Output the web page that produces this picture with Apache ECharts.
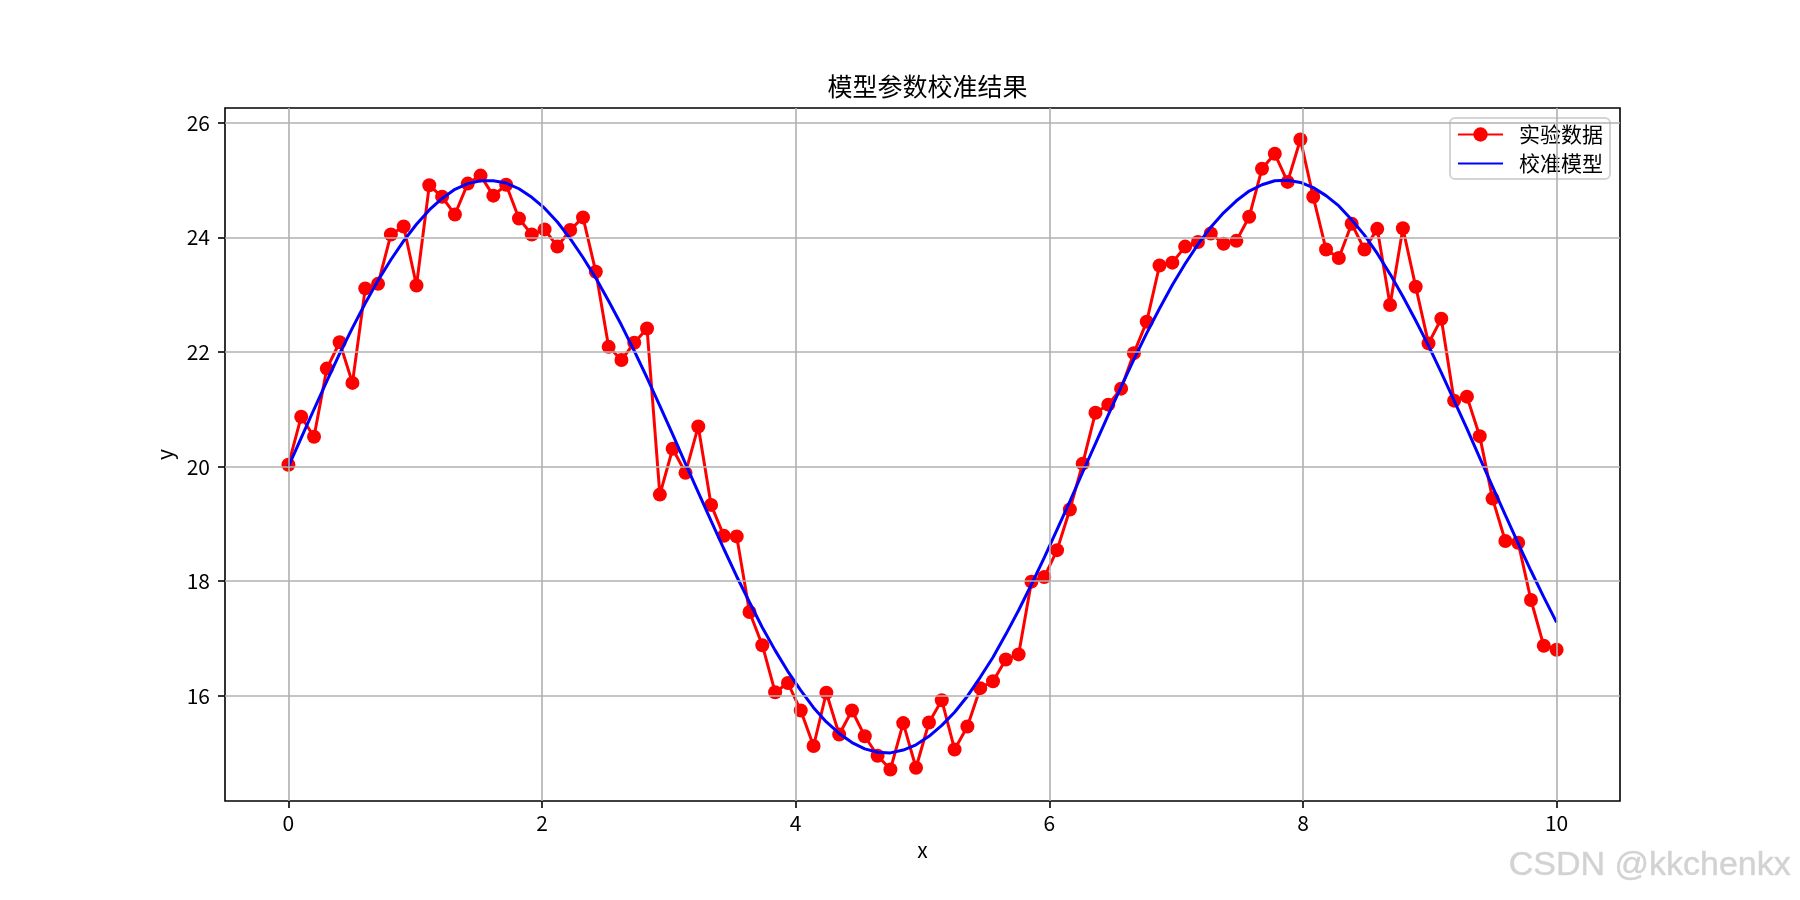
<!DOCTYPE html>
<html>
<head>
<meta charset="utf-8">
<script src="https://cdn.jsdelivr.net/npm/echarts@6/dist/echarts.min.js"></script>
<style>
html,body{margin:0;padding:0;background:#fff;}
#chart{width:1800px;height:900px;}
</style>
</head>
<body>
<div id="chart"></div>
<script>
const titleText = '模型参数校准结果';
const seriesNames = ['实验数据', '校准模型'];
const xName = 'x';
const yName = 'y';
const xTicks = [0, 2, 4, 6, 8, 10];
const yTicks = [16, 18, 20, 22, 24, 26];

const xValues = [
  0.000, 0.101, 0.202, 0.303, 0.404, 0.505, 0.606, 0.707, 0.808, 0.909,
  1.010, 1.111, 1.212, 1.313, 1.414, 1.515, 1.616, 1.717, 1.818, 1.919,
  2.020, 2.121, 2.222, 2.323, 2.424, 2.525, 2.626, 2.727, 2.828, 2.929,
  3.030, 3.131, 3.232, 3.333, 3.434, 3.535, 3.636, 3.737, 3.838, 3.939,
  4.040, 4.141, 4.242, 4.343, 4.444, 4.545, 4.646, 4.747, 4.848, 4.949,
  5.051, 5.152, 5.253, 5.354, 5.455, 5.556, 5.657, 5.758, 5.859, 5.960,
  6.061, 6.162, 6.263, 6.364, 6.465, 6.566, 6.667, 6.768, 6.869, 6.970,
  7.071, 7.172, 7.273, 7.374, 7.475, 7.576, 7.677, 7.778, 7.879, 7.980,
  8.081, 8.182, 8.283, 8.384, 8.485, 8.586, 8.687, 8.788, 8.889, 8.990,
  9.091, 9.192, 9.293, 9.394, 9.495, 9.596, 9.697, 9.798, 9.899, 10.000
];

const experimentValues = [
  20.03, 20.87, 20.52, 21.71, 22.17, 21.46, 23.11, 23.19, 24.05, 24.19,
  23.16, 24.91, 24.71, 24.40, 24.94, 25.08, 24.73, 24.92, 24.33, 24.05,
  24.14, 23.84, 24.13, 24.35, 23.40, 22.09, 21.86, 22.16, 22.41, 19.51,
  20.31, 19.89, 20.70, 19.33, 18.79, 18.78, 17.46, 16.88, 16.06, 16.22,
  15.74, 15.12, 16.05, 15.32, 15.74, 15.29, 14.95, 14.71, 15.52, 14.74,
  15.53, 15.92, 15.06, 15.46, 16.13, 16.25, 16.63, 16.72, 17.99, 18.07,
  18.54, 19.25, 20.05, 20.94, 21.08, 21.36, 21.98, 22.53, 23.51, 23.56,
  23.84, 23.92, 24.07, 23.89, 23.94, 24.36, 25.20, 25.46, 24.97, 25.71,
  24.71, 23.79, 23.64, 24.24, 23.79, 24.15, 22.82, 24.16, 23.14, 22.15,
  22.58, 21.15, 21.22, 20.53, 19.44, 18.70, 18.67, 17.67, 16.87, 16.80
];

const modelValues = [
  20.00, 20.50, 21.00, 21.49, 21.97, 22.42, 22.85, 23.25, 23.61, 23.94,
  24.23, 24.48, 24.68, 24.84, 24.94, 24.99, 24.99, 24.95, 24.85, 24.70,
  24.51, 24.27, 23.98, 23.65, 23.29, 22.89, 22.47, 22.02, 21.55, 21.06,
  20.56, 20.05, 19.55, 19.05, 18.56, 18.08, 17.63, 17.19, 16.79, 16.42,
  16.09, 15.79, 15.54, 15.34, 15.18, 15.07, 15.01, 15.00, 15.05, 15.14,
  15.29, 15.48, 15.71, 15.99, 16.32, 16.67, 17.07, 17.49, 17.94, 18.41,
  18.90, 19.39, 19.90, 20.40, 20.90, 21.39, 21.87, 22.33, 22.76, 23.17,
  23.54, 23.88, 24.18, 24.43, 24.64, 24.81, 24.92, 24.99, 25.00, 24.96,
  24.87, 24.73, 24.55, 24.31, 24.04, 23.72, 23.36, 22.97, 22.55, 22.11,
  21.64, 21.15, 20.66, 20.15, 19.65, 19.15, 18.66, 18.18, 17.72, 17.28
];

const FONT = '"Noto Sans CJK SC", "DejaVu Sans", sans-serif';
const margin = 0.05;
const padMin = v => v.min - margin * (v.max - v.min);
const padMax = v => v.max + margin * (v.max - v.min);

const chart = echarts.init(document.getElementById('chart'), null, {renderer: 'canvas'});

const gridLineStyle = {color: '#b0b0b0', width: 1.6, type: 'solid'};

const option = {
  animation: false,
  backgroundColor: '#ffffff',
  textStyle: {fontFamily: FONT},
  title: {
    text: titleText,
    left: 922.5,
    top: 69,
    textAlign: 'center',
    textStyle: {fontFamily: FONT, fontSize: 25, fontWeight: 'normal', color: '#000'}
  },
  legend: {
    data: [
      {name: seriesNames[0]},
      {name: seriesNames[1], itemStyle: {opacity: 0}}
    ],
    orient: 'vertical',
    right: 190,
    top: 118,
    itemWidth: 45,
    itemHeight: 18,
    itemGap: 8,
    padding: [6, 7, 5, 7],
    backgroundColor: 'rgba(255,255,255,0.8)',
    borderColor: '#d4d4d4',
    borderWidth: 2,
    borderRadius: 5,
    textStyle: {fontFamily: FONT, fontSize: 21, color: '#000', padding: [0, 0, 0, 11]}
  },
  grid: {
    left: 225, right: 180, top: 108, bottom: 99,
    show: true,
    borderColor: '#000',
    borderWidth: 1.6,
    backgroundColor: '#fff',
    containLabel: false,
    outerBoundsMode: 'none'
  },
  xAxis: {
    type: 'value',
    min: padMin,
    max: padMax,
    name: xName,
    nameLocation: 'middle',
    nameGap: 39,
    nameTextStyle: {fontFamily: FONT, fontSize: 21, color: '#000'},
    axisLine: {show: false, onZero: false},
    axisTick: {show: true, customValues: xTicks, length: 7, lineStyle: {color: '#000', width: 1.6}},
    axisLabel: {customValues: xTicks, margin: 12, fontFamily: FONT, fontSize: 21, color: '#000'},
    splitLine: {show: false}
  },
  yAxis: {
    type: 'value',
    min: padMin,
    max: padMax,
    scale: true,
    name: yName,
    nameLocation: 'middle',
    nameGap: 37,
    nameTextStyle: {fontFamily: FONT, fontSize: 21, color: '#000'},
    axisLine: {show: false, onZero: false},
    axisTick: {show: true, customValues: yTicks, length: 7, lineStyle: {color: '#000', width: 1.6}},
    axisLabel: {customValues: yTicks, margin: 15, fontFamily: FONT, fontSize: 21, color: '#000'},
    splitLine: {show: false}
  },
  series: [
    {
      name: '__grid__',
      type: 'line',
      data: [],
      z: 0,
      silent: true,
      markLine: {
        silent: true,
        symbol: ['none', 'none'],
        label: {show: false},
        lineStyle: gridLineStyle,
        animation: false,
        data: xTicks.map(v => ({xAxis: v})).concat(yTicks.map(v => ({yAxis: v})))
      }
    },
    {
      name: seriesNames[0],
      type: 'line',
      data: xValues.map((x, i) => [x, experimentValues[i]]),
      symbol: 'circle',
      symbolSize: 14,
      showAllSymbol: true,
      lineStyle: {color: '#ff0000', width: 3},
      itemStyle: {color: '#ff0000', borderWidth: 0},
      z: 2
    },
    {
      name: seriesNames[1],
      type: 'line',
      data: xValues.map((x, i) => [x, modelValues[i]]),
      symbol: 'none',
      smooth: false,
      lineStyle: {color: '#0000ff', width: 3},
      itemStyle: {color: '#0000ff'},
      z: 3
    }
  ],
  graphic: [
    {
      type: 'text',
      right: 9,
      top: 848,
      style: {
        text: 'CSDN @kkchenkx',
        font: '34px "Liberation Sans", Arial, sans-serif',
        fill: '#d2d2d2',
        stroke: 'rgba(160,160,160,0.35)',
        lineWidth: 0.6
      },
      z: 100
    }
  ]
};

chart.setOption(option);
</script>
</body>
</html>
